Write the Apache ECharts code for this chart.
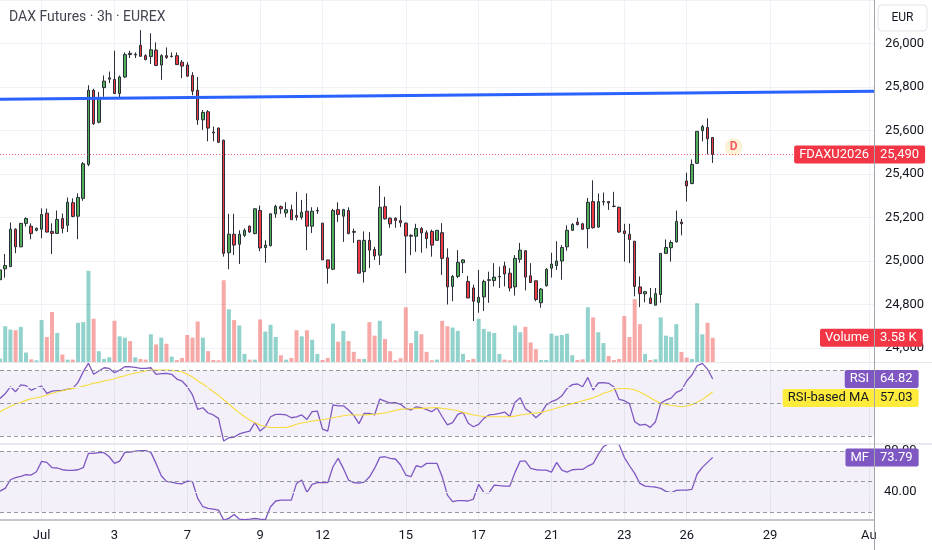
<!DOCTYPE html>
<html><head><meta charset="utf-8">
<script src="https://cdn.jsdelivr.net/npm/echarts@6/dist/echarts.min.js"></script>
<style>html,body{margin:0;padding:0;background:#fff}#c{width:932px;height:550px}</style>
</head><body><div id="c"></div>
<script>
// ---------- DATA ----------
const chartTitle = 'DAX Futures · 3h · EUREX';
const currencyLabel = 'EUR';
const symbolName = 'FDAXU2026';
const slotCount = 169; // candle slots on the time axis (incl. empty future slots)
const xTickIndex  = [8, 22, 36, 50, 62, 78, 92, 106, 120, 132, 148, 167];
const xTickLabels = ['Jul','3','7','9','12','15','17','21','23','26','29','Au'];

const opens = [
24914,24964,24974,25146,25065,25173,25160,25141,25146,25220,
25136,25127,25195,25164,25268,25206,25288,25444,25785,25638,
25797,25836,25835,25770,25846,25955,25947,25992,25944,25940,
25970,25901,25944,25940,25944,25914,25901,25853,25785,25649,
25686,25593,25611,25555,25038,25123,25077,25118,25160,25126,
25232,25062,25070,25217,25250,25221,25236,25209,25201,25229,
25160,25230,25174,25005,24962,25236,25206,25232,25136,25095,
24951,25095,25053,25027,25250,25197,25197,25186,25174,25118,
25114,25149,25130,25136,25095,25130,25015,24883,24929,24992,
24906,24876,24810,24835,24911,24910,24927,24977,24944,24881,
25008,25047,24932,24909,24808,24886,24967,24979,25000,25065,
25141,25179,25171,25149,25273,25156,25271,25273,25252,25247,
25138,25123,25091,24881,24849,24830,24797,24846,25035,25061,
25088,25179,25368,25356,25449,25599,25614,25568];
const closes = [
24959,24979,25146,25065,25173,25195,25126,25150,25214,25133,
25127,25191,25150,25270,25205,25292,25447,25785,25631,25747,
25827,25842,25770,25846,25949,25949,25950,25941,25926,25971,
25899,25944,25936,25942,25903,25896,25850,25781,25649,25683,
25611,25589,25546,25035,25123,25073,25123,25141,25133,25240,
25060,25073,25217,25251,25240,25236,25190,25201,25224,25160,
25229,25232,25005,24967,25232,25214,25236,25126,25132,24944,
25095,25050,25023,25247,25194,25171,25186,25176,25115,25114,
25149,25129,25103,25073,25141,25012,24881,24929,24994,25005,
24830,24815,24833,24906,24914,24926,24929,24940,24876,25012,
25050,24926,24901,24823,24871,24962,24986,25000,25062,25141,
25168,25167,25146,25270,25153,25273,25273,25267,25251,25133,
25126,25099,24883,24850,24859,24805,24850,25035,25062,25085,
25182,25171,25345,25444,25596,25618,25562,25490];
const highs = [
24968,25032,25177,25150,25174,25201,25173,25155,25242,25241,
25173,25232,25218,25292,25288,25311,25455,25808,25792,25777,
25853,25871,25967,25853,25959,25967,25959,26061,25951,26047,
26005,25951,25982,25959,25959,25924,25914,25868,25846,25694,
25694,25618,25614,25558,25217,25217,25141,25150,25164,25242,
25255,25095,25218,25259,25255,25270,25259,25318,25281,25311,
25247,25247,25174,25005,25240,25270,25240,25247,25149,25095,
25136,25133,25065,25345,25295,25200,25201,25255,25177,25123,
25171,25156,25141,25144,25141,25174,25058,24936,25050,25009,
24932,24891,24959,24914,24951,24990,24974,24997,24967,25027,
25083,25050,24990,24909,24876,24967,25038,25091,25073,25164,
25174,25199,25176,25290,25371,25311,25315,25274,25318,25250,
25171,25171,25091,24929,24860,24876,24876,25035,25099,25095,
25232,25194,25406,25467,25596,25626,25656,25568];
const lows = [
24896,24923,24973,25036,25064,25159,25100,25136,25105,25132,
25032,25127,25127,25133,25201,25100,25277,25436,25626,25633,
25755,25818,25770,25751,25842,25933,25933,25940,25923,25906,
25896,25833,25929,25936,25902,25841,25846,25762,25626,25603,
25550,25550,25542,25020,24962,25027,24986,25110,25130,25123,
25045,24992,25068,25199,25217,25201,25190,25186,25190,25050,
25129,25217,25005,24896,24959,25179,25088,25123,25083,24944,
24901,24967,25005,24982,25190,25153,25153,25156,24944,25027,
25042,25038,25058,25020,25095,24936,24800,24815,24921,24944,
24830,24724,24762,24770,24808,24883,24876,24883,24860,24841,
24992,24865,24899,24815,24785,24883,24924,24959,24914,25047,
25138,25164,25144,25058,25149,25153,25255,25235,25247,25130,
24997,24990,24838,24788,24810,24803,24796,24808,25032,24997,
25085,25118,25274,25353,25447,25550,25490,25451];
// volume in thousands of contracts
const volumes = [
0.5,5.3,4.8,4.7,5.2,1.4,0.4,0.25,6.2,3.7,
7.4,4.3,1.1,0.35,0.35,5.8,5.9,13.5,6.4,1.6,
0.45,0.7,6.1,3.8,3.6,3.1,0.7,0.45,0.35,4.1,
2.6,3.6,2.7,0.8,0.3,0.6,4.0,3.6,6.0,3.6,
1.6,0.3,0.25,12.1,7.8,6.2,5.4,1.2,0.35,0.35,
6.3,4.5,5.5,3.7,1.0,0.35,0.6,4.7,3.8,4.7,
3.3,1.2,0.3,0.6,5.7,3.0,4.6,3.1,1.5,0.45,
0.45,5.9,3.9,6.1,3.4,1.6,0.25,0.55,8.1,2.8,
4.6,4.1,1.5,0.25,0.35,6.1,5.3,5.1,4.6,1.2,
0.3,0.45,6.4,4.9,4.5,4.3,1.2,0.35,0.25,5.4,
4.4,5.2,2.9,1.9,0.3,0.3,4.2,3.9,4.0,4.2,
1.0,0.3,0.4,8.1,6.6,4.4,2.8,0.9,0.3,0.45,
6.8,3.7,9.3,5.6,1.2,0.3,0.4,6.6,3.9,3.7,
5.6,1.5,0.65,0.45,8.7,4.1,5.8,3.58];
const rsi = [
53.0,55.9,60.1,57.1,61.2,60.8,57.9,59.5,60.5,56.1,
57.5,57.7,57.9,58.7,59.1,62.8,69.3,74.4,67.7,69.7,
71.7,71.3,68.7,70.3,72.3,72.3,71.9,71.3,71.3,71.7,
67.7,68.1,68.3,67.7,64.8,63.6,60.1,55.1,46.3,47.3,
44.1,42.9,40.8,27.0,29.0,29.4,31.3,32.3,33.1,38.2,
33.1,35.7,41.8,43.3,43.3,42.9,41.2,41.8,42.9,40.2,
44.9,45.3,34.3,33.1,49.0,48.5,48.5,45.9,42.6,37.6,
43.9,43.9,42.9,52.6,51.4,50.2,50.4,49.4,46.9,45.9,
47.9,47.3,46.1,44.9,47.3,41.8,36.8,38.2,43.3,44.5,
37.8,35.7,37.2,40.8,42.9,43.3,43.9,44.7,42.0,50.6,
53.4,46.5,44.5,41.2,43.9,49.0,51.0,52.2,54.6,59.1,
61.4,61.8,60.1,65.8,58.1,62.4,62.6,62.2,59.9,52.4,
51.6,49.8,38.8,36.7,37.2,35.3,38.8,50.0,52.0,53.2,
56.7,58.1,63.6,67.3,72.9,74.4,70.9,64.82];
const rsiMA = [
44.9,46.5,48.1,49.6,50.6,51.8,52.8,53.4,54.0,55.1,
56.1,57.1,57.7,58.5,59.1,59.7,60.5,61.3,62.2,62.8,
63.6,64.2,65.0,66.0,66.8,67.7,68.5,69.1,69.7,70.3,
70.3,70.3,70.3,70.1,69.7,69.3,67.7,66.0,63.8,61.8,
59.5,57.1,54.9,52.2,49.6,46.7,44.3,41.8,39.8,38.2,
36.8,35.9,35.3,35.3,35.3,35.3,36.1,37.2,38.0,38.6,
39.2,39.6,40.0,40.6,41.2,41.8,42.4,42.9,42.9,42.9,
42.9,43.1,43.3,43.7,44.1,44.9,45.7,46.3,46.5,46.7,
46.9,46.9,47.1,47.3,47.5,46.9,46.5,46.1,45.5,44.5,
43.7,42.9,42.4,42.0,41.8,41.8,41.8,41.8,41.8,42.2,
42.9,43.3,43.7,44.1,44.5,45.3,46.1,47.1,47.9,49.0,
49.8,50.6,51.6,52.4,53.4,54.6,56.1,57.1,58.3,59.1,
59.1,58.9,58.1,56.9,55.3,53.4,51.6,50.0,49.4,48.8,
48.4,47.9,48.4,49.2,50.6,52.4,54.6,57.03];
const mf = [
40.8,43.4,51.9,53.9,55.2,56.8,56.5,59.8,69.9,68.9,
63.7,63.4,61.7,61.1,61.1,61.7,63.7,77.7,77.7,78.4,
78.4,74.4,67.9,70.2,78.7,79.0,80.0,80.3,80.3,78.7,
67.9,55.8,50.3,49.6,48.3,48.0,50.6,50.0,33.7,25.5,
23.9,23.2,22.2,12.5,14.1,18.0,13.4,12.8,13.4,14.1,
13.4,12.8,25.5,31.1,32.0,32.0,32.0,48.3,51.6,39.5,
47.4,49.0,49.0,49.0,64.6,72.8,63.0,51.6,49.0,48.7,
49.6,54.5,63.0,73.8,74.4,72.8,72.2,66.3,56.5,54.9,
65.6,64.3,67.9,67.9,67.9,54.9,36.9,30.4,31.4,31.4,
31.1,33.0,47.4,39.5,39.2,46.7,46.1,45.7,45.7,59.1,
70.2,70.2,63.0,61.7,61.4,61.4,59.4,68.9,61.4,59.4,
61.7,62.0,62.0,65.3,67.6,76.7,84.2,87.5,87.5,86.5,
73.8,65.6,58.1,48.3,45.7,45.1,44.8,43.4,40.5,39.2,
41.5,41.8,41.8,42.5,57.5,64.0,68.9,73.79];
const trendIdx = [0, 168];
const trendPrice = [25744, 25781];
const eventIdx = 141, eventPrice = 25524, eventText = 'D';
const priceMin = 24600, priceMax = 26200, priceStep = 200;
const rsiLevels = [70, 50, 30], rsiGrid = [60];
const mfLevels = [80, 50, 20], mfGrid = [40];

// ---------- CHART ----------
const chart = echarts.init(document.getElementById('c'), null, {renderer:'canvas'});
const FONT = 'Roboto, "Open Sans", sans-serif';
const categories = Array.from({length: slotCount}, () => '');
xTickIndex.forEach((k, j) => { categories[k] = xTickLabels[j]; });
const isTick = (i, v) => v !== '';
const candles = opens.map((o, i) => [o, closes[i], lows[i], highs[i]]);
const UPV = 'rgba(38,166,154,0.5)', DNV = 'rgba(239,83,80,0.5)';
const volData = volumes.map((v, i) => ({value: v, itemStyle: {color: closes[i] >= opens[i] ? UPV : DNV}}));
const gridLine = '#eef1f6';
const fmt = v => String(v).replace(/\B(?=(\d{3})+(?!\d))/g, ',');

function xAx(gi, showLabel) {
  return {type:'category', gridIndex:gi, data:categories, boundaryGap:false,
    axisLine:{show:showLabel, lineStyle:{color:'#b2b5be', width:1.5}},
    axisTick:{show:false},
    axisLabel:{show:showLabel, interval:isTick, color:'#131722', fontSize:13, margin:10, fontFamily:FONT},
    splitLine:{show:true, interval:isTick, lineStyle:{color:gridLine, width:1}},
    axisPointer:{show:false}};
}
const dashed = {color:'#9598a1', type:[4,3], width:1};

chart.setOption({
  animation:false,
  backgroundColor:'#ffffff',
  textStyle:{fontFamily:FONT},
  title:{text:chartTitle, left:9, top:10, padding:0,
    textStyle:{fontSize:14, fontWeight:'normal', color:'#434651', fontFamily:FONT}},
  grid:[
    {left:0, right:58, top:-3, height:351},
    {left:0, right:58, top:262, height:100},
    {left:0, right:58, top:363, height:80},
    {left:0, right:58, top:445, height:74.3}
  ],
  xAxis:[xAx(0,false), xAx(1,false), xAx(2,false), xAx(3,true)],
  yAxis:[
    {gridIndex:0, type:'value', position:'right', min:priceMin, max:priceMax, interval:priceStep,
      axisLine:{show:false}, axisTick:{show:false},
      axisLabel:{color:'#131722', fontSize:13, margin:11, showMaxLabel:false, fontFamily:FONT, formatter:fmt},
      splitLine:{show:true, lineStyle:{color:gridLine}}},
    {gridIndex:1, type:'value', min:0, max:14.8, show:false},
    {gridIndex:2, type:'value', min:25.8, max:74.6, show:false},
    {gridIndex:3, type:'value', min:13.2, max:85.9, show:false}
  ],
  series:[
    {type:'candlestick', name:'price', xAxisIndex:0, yAxisIndex:0, data:candles, barWidth:3, z:3,
      itemStyle:{color:'#4fae57', color0:'#f03a43', borderColor:'#2a2e39', borderColor0:'#2a2e39', borderWidth:1},
      markLine:{silent:true, symbol:['none','none'], label:{show:false}, animation:false,
        data:[
          [{coord:[trendIdx[0], trendPrice[0]], lineStyle:{color:'#2962ff', width:3, type:'solid'}},
           {coord:[trendIdx[1], trendPrice[1]]}],
          {yAxis:closes[closes.length-1], lineStyle:{color:'rgba(242,54,69,0.75)', width:1, type:[1,2]}}
        ]}},
    {type:'scatter', xAxisIndex:0, yAxisIndex:0, data:[[eventIdx, eventPrice]], symbolSize:18, silent:true, z:4,
      itemStyle:{color:'#fcefcb'},
      label:{show:true, position:'inside', formatter:eventText, color:'#f23645', fontSize:12, fontWeight:'bold'}},
    {type:'bar', xAxisIndex:1, yAxisIndex:1, data:volData, barWidth:4, z:2},
    {type:'line', xAxisIndex:2, yAxisIndex:2, data:[], silent:true, z:1,
      markArea:{silent:true, itemStyle:{color:'rgba(126,87,194,0.09)'}, data:[[{yAxis:rsiLevels[0]},{yAxis:rsiLevels[2]}]]},
      markLine:{silent:true, symbol:['none','none'], label:{show:false}, lineStyle:dashed,
        data: rsiGrid.map(v => ({yAxis:v, lineStyle:{color:gridLine, type:'solid', width:1}}))
              .concat(rsiLevels.map(v => ({yAxis:v})))}},
    {type:'line', name:'RSI', xAxisIndex:2, yAxisIndex:2, data:rsi, symbol:'none', z:3,
      lineStyle:{color:'#7e57c2', width:1.3}},
    {type:'line', name:'RSI-based MA', xAxisIndex:2, yAxisIndex:2, data:rsiMA, symbol:'none', z:3,
      lineStyle:{color:'#f7dc3c', width:1.1}},
    {type:'line', xAxisIndex:3, yAxisIndex:3, data:[], silent:true, z:1,
      markArea:{silent:true, itemStyle:{color:'rgba(126,87,194,0.09)'}, data:[[{yAxis:mfLevels[0]},{yAxis:mfLevels[2]}]]},
      markLine:{silent:true, symbol:['none','none'], lineStyle:dashed,
        label:{show:false},
        data: mfGrid.map(v => ({yAxis:v, lineStyle:{color:gridLine, type:'solid', width:1},
                 label:{show:true, position:'end', distance:10, color:'#131722', fontSize:13, fontFamily:FONT, formatter:p => Number(p.value).toFixed(2)}}))
              .concat(mfLevels.map(v => ({yAxis:v, label:{show: v === mfLevels[0], position:'end', distance:10, color:'#131722', fontSize:13, fontFamily:FONT, formatter:p => Number(p.value).toFixed(2)}})))}},
    {type:'line', name:'MF', xAxisIndex:3, yAxisIndex:3, data:mf, symbol:'none', z:3,
      lineStyle:{color:'#7e57c2', width:1.3}}
  ]
});

// ---------- overlay badges (positions from the axes) ----------
const W = chart.getWidth(), H = chart.getHeight();
const axisX = W - 58;
const yOf = (ax, v) => chart.convertToPixel({yAxisIndex: ax}, v);
function badge(y, name, value, bg, fg) {
  const base = {font:'13px ' + FONT, fill:fg, backgroundColor:bg, padding:[3,5,2,5],
                verticalAlign:'middle', textVerticalAlign:'middle'};
  return [
    {type:'text', x:axisX, y:y, z:100, style:Object.assign({}, base, {text:name, align:'right', textAlign:'right', borderRadius:[2,0,0,2]})},
    {type:'text', x:axisX, y:y, z:100, style:Object.assign({}, base, {text:value, align:'left', textAlign:'left', padding:[3,6,2,6], borderRadius:[0,2,2,0]})}
  ];
}
const last = closes.length - 1;
const rsiY = yOf(2, rsi[last]);
const maY = Math.max(yOf(2, rsiMA[last]), rsiY + 19);
const graphics = [].concat(
  [{type:'line', z:50, shape:{x1:0, y1:362.5, x2:W, y2:362.5}, style:{stroke:'#e6e8ee', lineWidth:1}},
   {type:'line', z:50, shape:{x1:0, y1:444, x2:W, y2:444}, style:{stroke:'#e0e3eb', lineWidth:1.5}}],
  badge(yOf(0, closes[last]), symbolName, fmt(closes[last]), '#f23645', '#ffffff'),
  badge(yOf(1, volumes[last]), 'Volume', volumes[last].toFixed(2) + ' K', '#f23645', '#ffffff'),
  badge(rsiY, 'RSI', rsi[last].toFixed(2), '#7e57c2', '#ffffff'),
  badge(maY, 'RSI-based MA', rsiMA[last].toFixed(2), '#ffeb3b', '#131722'),
  badge(yOf(3, mf[last]), 'MF', mf[last].toFixed(2), '#7e57c2', '#ffffff'),
  [{type:'rect', z:100, shape:{x:878, y:5, width:49, height:26, r:4}, style:{fill:'#ffffff', stroke:'#e0e3eb', lineWidth:1}},
   {type:'text', z:101, x:902.5, y:18, style:{text:currencyLabel, font:'12px ' + FONT, fill:'#131722', align:'center', textAlign:'center', verticalAlign:'middle', textVerticalAlign:'middle'}},
   {type:'line', z:150, shape:{x1:axisX + 0.5, y1:0, x2:axisX + 0.5, y2:H}, style:{stroke:'#a3a6af', lineWidth:1}}]
);
chart.setOption({graphic: graphics});
</script>
</body></html>
